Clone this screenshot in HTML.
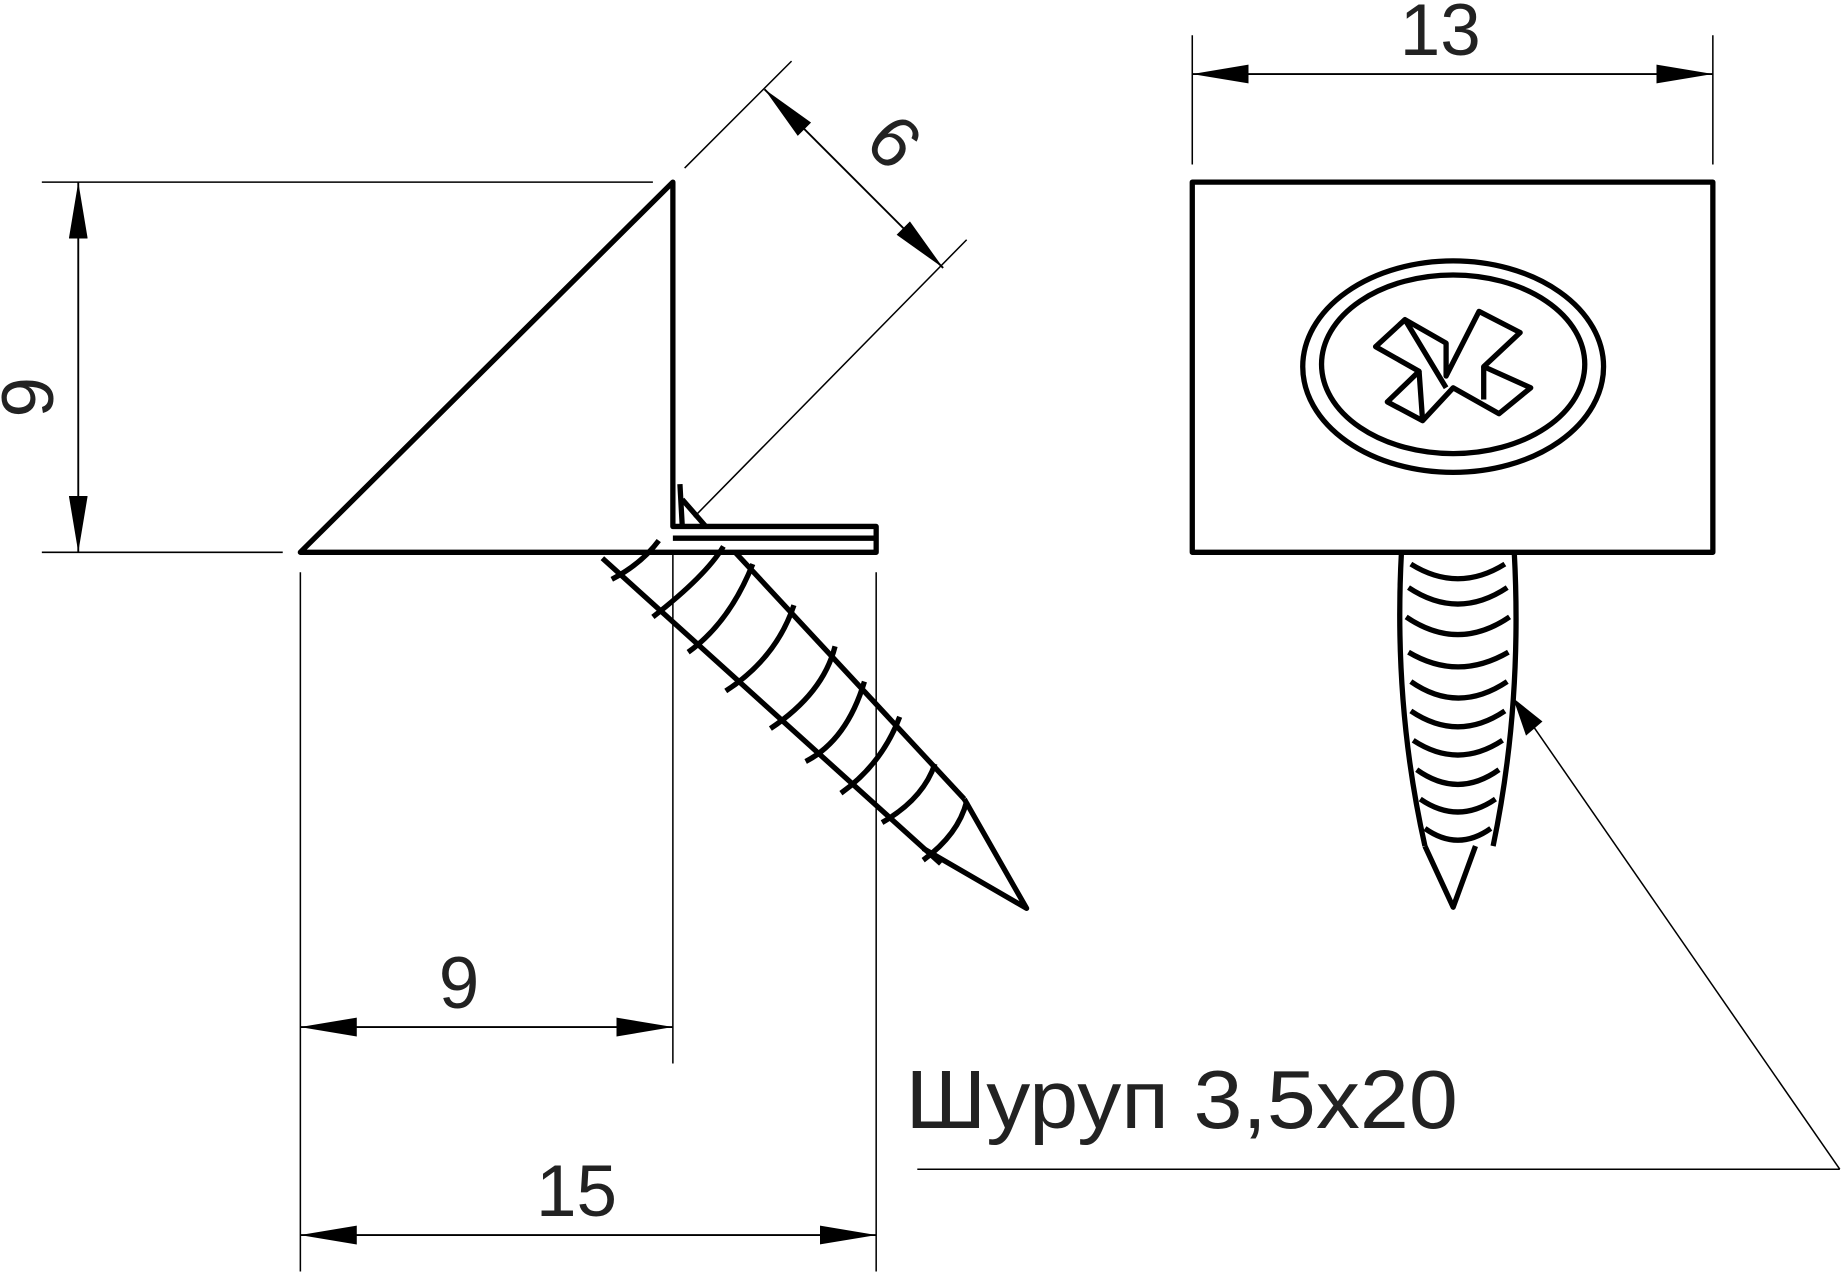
<!DOCTYPE html>
<html><head><meta charset="utf-8"><style>
html,body{margin:0;padding:0;background:#fff;width:1844px;height:1275px;overflow:hidden}
svg{display:block}
text{font-family:"Liberation Sans","DejaVu Sans",sans-serif;fill:#222}
</style></head><body>
<svg width="1844" height="1275" viewBox="0 0 1568 1085" xmlns="http://www.w3.org/2000/svg">
<defs>
<marker id="a" viewBox="0 0 48 16" refX="48" refY="8" markerWidth="48" markerHeight="16" markerUnits="userSpaceOnUse" orient="auto-start-reverse">
<path d="M48,8 L0,0 L0,16 Z" fill="#000"/></marker>
</defs>
<g stroke="#000" fill="none">
<g stroke-width="1.3">
<line x1="35" y1="155" x2="555" y2="155"/>
<line x1="35" y1="470" x2="240" y2="470"/>
<line x1="255" y1="487" x2="255" y2="1082"/>
<line x1="572" y1="470" x2="572" y2="905"/>
<line x1="745" y1="487" x2="745" y2="1082"/>
<line x1="582" y1="143" x2="673" y2="52"/>
<line x1="590" y1="440" x2="822" y2="204"/>
<line x1="1014" y1="30" x2="1014" y2="140"/>
<line x1="1457" y1="30" x2="1457" y2="140"/>
<line x1="1300" y1="612" x2="1565" y2="995"/>
<line x1="780" y1="995" x2="1565" y2="995"/>
</g>
<g stroke-width="1.6">
<line x1="66" y1="155" x2="66" y2="470" marker-start="url(#a)" marker-end="url(#a)"/>
<line x1="650" y1="76" x2="802" y2="228" marker-start="url(#a)" marker-end="url(#a)"/>
<line x1="255" y1="874" x2="572" y2="874" marker-start="url(#a)" marker-end="url(#a)"/>
<line x1="255" y1="1051" x2="745" y2="1051" marker-start="url(#a)" marker-end="url(#a)"/>
<line x1="1014" y1="63" x2="1457" y2="63" marker-start="url(#a)" marker-end="url(#a)"/>
</g>
<path d="M1287,594 L1312,614 L1298,626 Z" fill="#000" stroke="none"/>
<g stroke-width="4.5" stroke-linejoin="round">
<path d="M255,470 L572,155 L572,448 L745,448 L745,470 Z"/>
<line x1="572" y1="458" x2="745" y2="458"/>
<path d="M578,412 L580,448 M580,425 L600,448"/>
<line x1="512" y1="475" x2="800" y2="735"/>
<line x1="625" y1="470" x2="820" y2="680"/>
<path d="M820,680 L873,773 L785,722"/>
<path d="M520,493 Q545,480 560,460 M555,525 Q600,490 615,465 M585,555 Q620,530 640,480 M617,588 Q660,560 675,515 M655,620 Q700,590 710,550 M685,648 Q720,630 735,580 M715,675 Q750,650 765,610 M750,700 Q785,680 795,650 M785,732 Q815,710 822,682"/>
<rect x="1014" y="155" width="443" height="315"/>
<ellipse cx="1236" cy="312" rx="128" ry="90"/>
<ellipse cx="1236" cy="310" rx="112" ry="76"/>
<path d="M1170,295 L1195,272 L1230,292 L1230,320 L1258,265 L1293,283 L1262,312 L1302,330 L1275,352 L1236,330 L1210,358 L1180,342 L1207,316 Z"/>
<path d="M1195,272 L1230,330 M1207,316 L1210,358 M1262,312 L1262,340"/>
<path d="M1192,470 Q1185,600 1212,720 M1288,470 Q1295,600 1270,720"/>
<path d="M1212,720 L1236,772 L1255,720"/>
<path d="M1200,480 Q1240,505 1280,480 M1198,500 Q1240,528 1282,500 M1196,525 Q1240,555 1284,525 M1198,555 Q1240,580 1283,555 M1200,580 Q1240,608 1282,580 M1200,605 Q1240,632 1280,605 M1202,630 Q1240,655 1278,630 M1205,655 Q1240,680 1275,655 M1208,680 Q1240,702 1272,680 M1212,705 Q1240,725 1268,705"/>
</g>
</g>
<text x="28" y="338" font-size="62" text-anchor="middle" transform="rotate(-90 28 338)" dominant-baseline="middle">9</text>
<text x="757" y="124" font-size="62" text-anchor="middle" dominant-baseline="middle" transform="rotate(45 757 124)">6</text>
<text x="390" y="858" font-size="62" text-anchor="middle">9</text>
<text x="490" y="1035" font-size="62" text-anchor="middle">15</text>
<text x="1225" y="47" font-size="62" text-anchor="middle">13</text>
<text x="770" y="960" font-size="70" textLength="470" lengthAdjust="spacingAndGlyphs">Шуруп 3,5х20</text>
</svg>
</body></html>
